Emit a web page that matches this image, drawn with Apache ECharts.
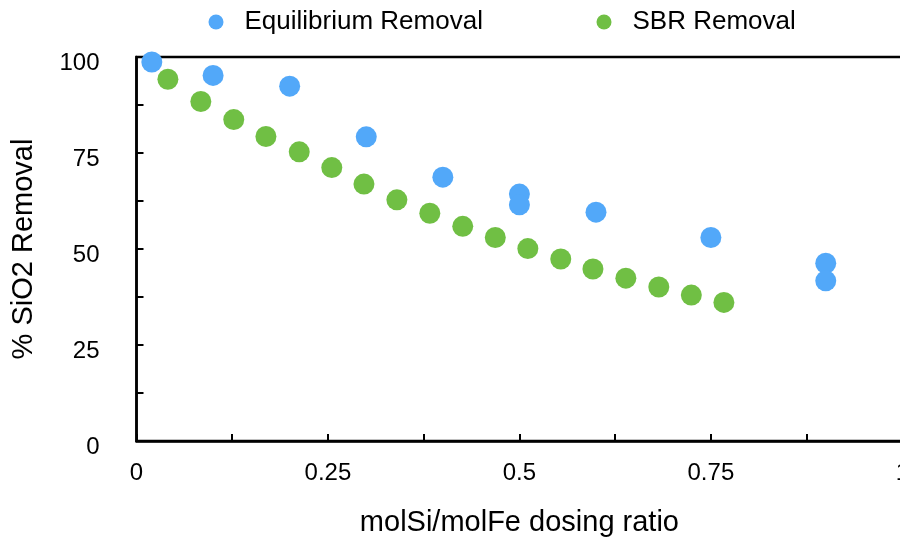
<!DOCTYPE html>
<html>
<head>
<meta charset="utf-8">
<script src="https://cdn.jsdelivr.net/npm/echarts@6/dist/echarts.min.js"></script>
<style>html,body{margin:0;padding:0;background:#fff;overflow:hidden;width:900px;height:542px;}#c{width:912px;height:542px;}</style>
</head>
<body>
<div id="c"></div>
<script>
var eqX = [0.02, 0.1, 0.2, 0.3, 0.4, 0.5, 0.5, 0.6, 0.75, 0.9, 0.9];
var eqY = [98.7, 95.2, 92.4, 79.2, 68.7, 64.3, 61.5, 59.6, 53.0, 46.3, 41.7];
var sbrX = [0.041, 0.084, 0.127, 0.169, 0.2125, 0.255, 0.297, 0.340, 0.383, 0.426, 0.4685, 0.511, 0.554, 0.596, 0.639, 0.682, 0.7245, 0.767];
var sbrY = [94.2, 88.4, 83.7, 79.3, 75.3, 71.2, 66.9, 62.8, 59.3, 55.9, 53.0, 50.1, 47.4, 44.8, 42.4, 40.1, 38.0, 36.1];
var xTickLabels = ['0', '0.25', '0.5', '0.75', '1'];
var yTickLabels = ['0', '25', '50', '75', '100'];
var seriesNames = ['Equilibrium Removal', 'SBR Removal'];
var xTitle = 'molSi/molFe dosing ratio';
var yTitle = '% SiO2 Removal';

function pairs(xs, ys) { return xs.map(function (x, i) { return [x, ys[i]]; }); }
var FONT = "'Liberation Sans', Arial, Helvetica, sans-serif";
var chart = echarts.init(document.getElementById('c'), null, { renderer: 'canvas' });
var legendText = { fontFamily: FONT, fontSize: 26, color: '#000', padding: [0, 0, 0, 16] };
chart.setOption({
  animation: false,
  backgroundColor: '#fff',
  legend: [
    { data: [seriesNames[0]], left: 203.5, top: 4, itemWidth: 15, itemHeight: 15, icon: 'circle', textStyle: legendText },
    { data: [seriesNames[1]], left: 591.5, top: 4, itemWidth: 15, itemHeight: 15, icon: 'circle', textStyle: legendText }
  ],
  grid: { left: 136.5, top: 57, right: 6.9, bottom: 100.3, show: true, borderColor: '#000', borderWidth: 2.5, backgroundColor: 'transparent' },
  xAxis: {
    type: 'value', min: 0, max: 1, interval: 0.125,
    name: xTitle, nameLocation: 'middle', nameGap: 67,
    nameTextStyle: { fontFamily: FONT, fontSize: 29, color: '#000' },
    axisLine: { lineStyle: { color: '#000', width: 2.5 } },
    axisTick: { inside: true, length: 7, lineStyle: { color: '#000', width: 2 } },
    splitLine: { show: false },
    axisLabel: {
      fontFamily: FONT, fontSize: 24, color: '#000', margin: 20,
      formatter: function (v) { var i = Math.round(v / 0.25); return Math.abs(v - i * 0.25) < 1e-6 ? xTickLabels[i] : ''; }
    }
  },
  yAxis: {
    type: 'value', min: 0, max: 100, interval: 12.5,
    name: yTitle, nameLocation: 'middle', nameGap: 98, nameRotate: 90,
    nameTextStyle: { fontFamily: FONT, fontSize: 29, color: '#000' },
    axisLine: { show: true, lineStyle: { color: '#000', width: 2.5 } },
    axisTick: { show: true, inside: true, length: 7, lineStyle: { color: '#000', width: 2 } },
    splitLine: { show: false },
    axisLabel: {
      fontFamily: FONT, fontSize: 24, color: '#000', margin: 37, verticalAlign: 'top', lineHeight: 12,
      formatter: function (v) { var i = Math.round(v / 25); return Math.abs(v - i * 25) < 1e-6 ? yTickLabels[i] : ''; }
    }
  },
  series: [
    { name: seriesNames[1], type: 'scatter', symbol: 'circle', symbolSize: 21, itemStyle: { color: '#70BF44', opacity: 1 }, data: pairs(sbrX, sbrY) },
    { name: seriesNames[0], type: 'scatter', symbol: 'circle', symbolSize: 21, itemStyle: { color: '#52A8F9', opacity: 1 }, data: pairs(eqX, eqY) }
  ]
});
</script>
</body>
</html>
